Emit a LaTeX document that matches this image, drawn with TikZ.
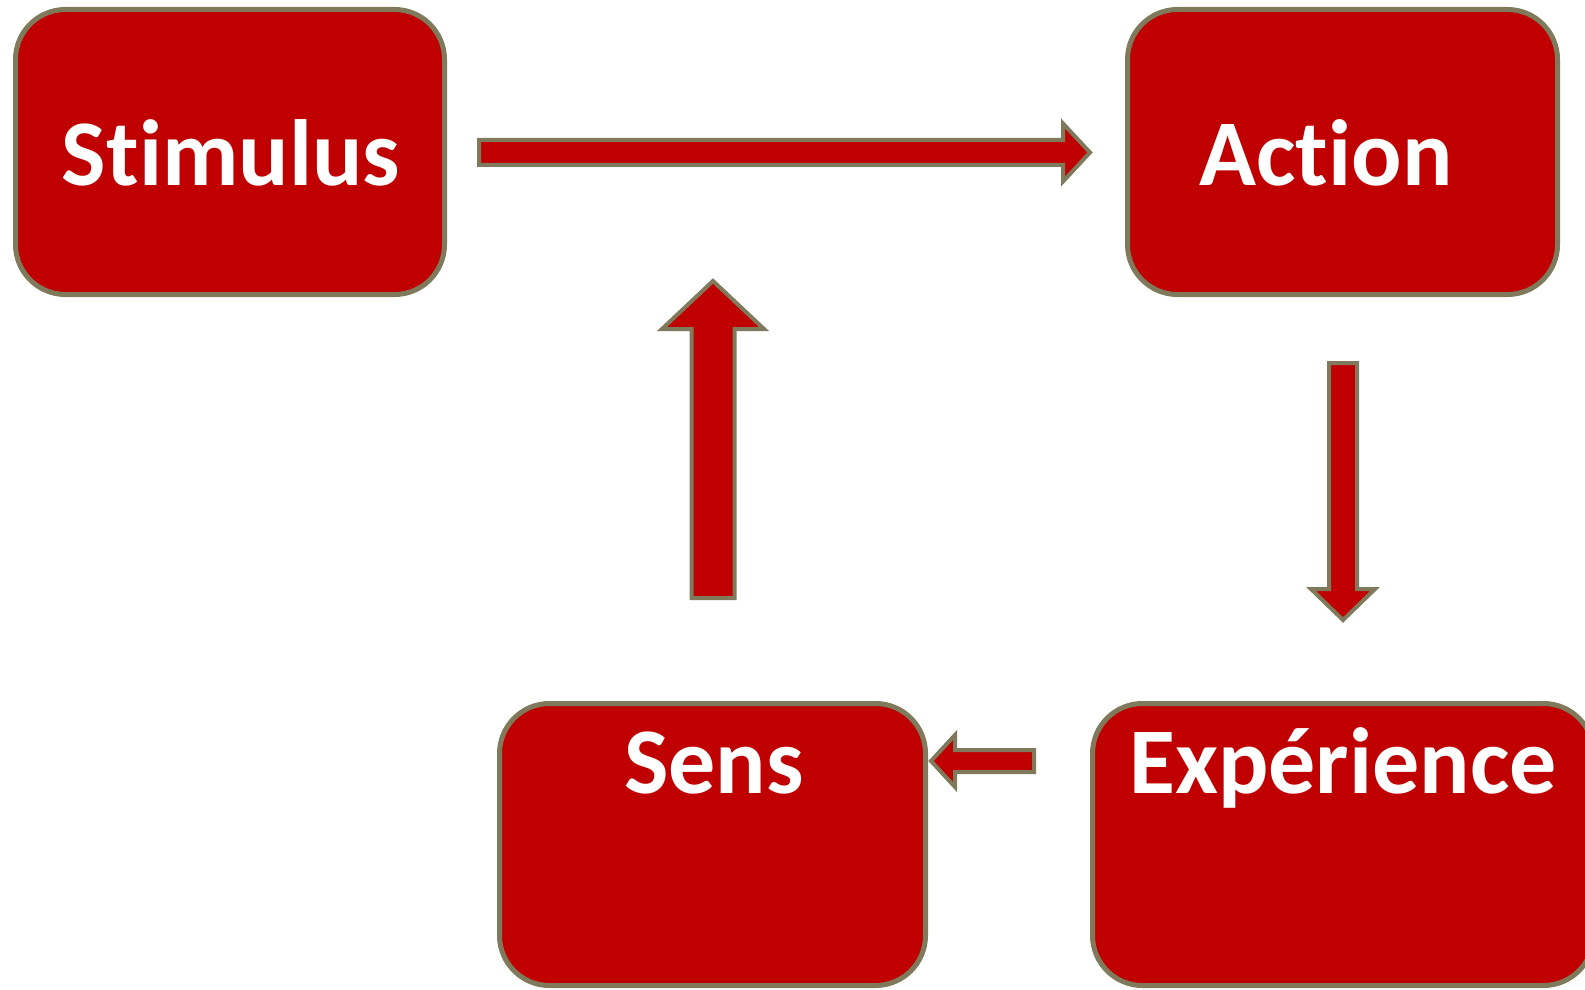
\documentclass[tikz,border=0pt]{standalone}
\usepackage{fontspec}
\setmainfont{Carlito}[Ligatures=NoCommon]
\definecolor{boxred}{RGB}{192,0,0}
\definecolor{boxedge}{RGB}{127,122,92}
\begin{document}
\begin{tikzpicture}[x=0.5pt,y=-0.5pt,
  box/.style={draw=boxedge, fill=boxred, line width=2.5pt, rounded corners=25pt, inner sep=0pt},
  lbl/.style={text=white, font=\fontsize{47}{56}\selectfont\bfseries, inner sep=0pt, anchor=base},
  blockarrow/.style={draw=boxedge, fill=boxred, line width=2pt, line join=miter}]
\useasboundingbox (0,0) rectangle (1585,990);
% boxes
\node[box, minimum width=214.5pt, minimum height=142.5pt] (stim) at (230,152) {};
\node[box, minimum width=215pt, minimum height=142.5pt] (act) at (1342.5,152) {};
\node[box, minimum width=213pt, minimum height=141pt] (sens) at (712.5,844.5) {};
\node[box, minimum width=250.5pt, minimum height=141pt] (exp) at (1343,844.5) {};
% labels
\node[lbl] (tstim) at (231,185) {Stimulus};
\node[lbl] (tact) at (1326,185) {Action};
\node[lbl] (tsens) at (714,793) {Sens};
\node[lbl] (texp) at (1343,793) {Expérience};
% block arrows
\draw[blockarrow] (479,140) -- (1063,140) -- (1063,123.5) -- (1090,152.5) -- (1063,181.5) -- (1063,165) -- (479,165) -- cycle;
\draw[blockarrow] (691.5,598) -- (691.5,329) -- (662,329) -- (713,281) -- (764,329) -- (734.5,329) -- (734.5,598) -- cycle;
\draw[blockarrow] (1329,363) -- (1357,363) -- (1357,589) -- (1375,589) -- (1343,620) -- (1311,589) -- (1329,589) -- cycle;
\draw[blockarrow] (1034,750) -- (955,750) -- (955,735) -- (931,761) -- (955,787) -- (955,772) -- (1034,772) -- cycle;
\end{tikzpicture}
\end{document}
